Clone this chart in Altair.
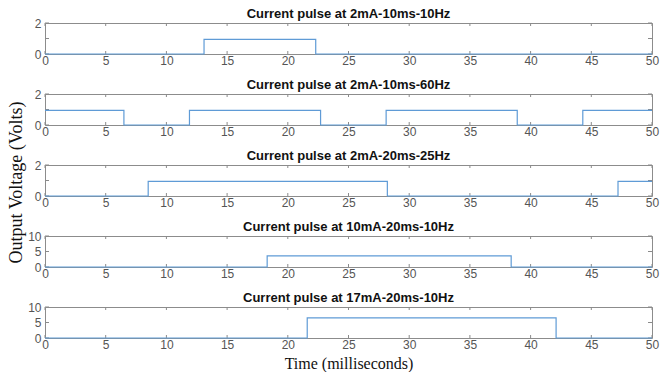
import altair as alt
import pandas as pd

# ---- data ----
titles = [
    "Current pulse at 2mA-10ms-10Hz",
    "Current pulse at 2mA-10ms-60Hz",
    "Current pulse at 2mA-20ms-25Hz",
    "Current pulse at 10mA-20ms-10Hz",
    "Current pulse at 17mA-20ms-10Hz",
]
x_ticks = [0, 5, 10, 15, 20, 25, 30, 35, 40, 45, 50]

p1_t = [0, 13.1, 22.3, 50]
p1_v = [0, 0.95, 0, 0]
p2_t = [0, 6.5, 11.9, 22.7, 28.1, 38.9, 44.3, 50]
p2_v = [0.95, 0, 0.95, 0, 0.95, 0, 0.95, 0.95]
p3_t = [0, 8.5, 28.2, 47.2, 50]
p3_v = [0, 0.95, 0, 0.95, 0.95]
p4_t = [0, 18.3, 38.4, 50]
p4_v = [0, 3.6, 0, 0]
p5_t = [0, 21.6, 42.1, 50]
p5_v = [0, 6.5, 0, 0]

y_max = [2, 2, 2, 10, 10]
y_ticks = [[0, 1, 2], [0, 1, 2], [0, 1, 2], [0, 5, 10], [0, 5, 10]]

series_t = [p1_t, p2_t, p3_t, p4_t, p5_t]
series_v = [p1_v, p2_v, p3_v, p4_v, p5_v]

# ---- styling ----
W, H = 607, 31
LINE = "#5f9bd6"
TICK = "#8a8a8a"
LABEL = "#555555"
SANS = "Liberation Sans"
SERIF = "Liberation Serif"


def panel(i):
    xscale = alt.Scale(domain=[0, 50], nice=False, zero=False)
    yscale = alt.Scale(domain=[0, y_max[i]], nice=False)
    xtitle = "Time (milliseconds)" if i == 4 else None

    xaxis_kw = dict(values=x_ticks, ticks=False, domain=False, grid=False,
                    labelFont=SANS, labelFontSize=12, labelColor=LABEL,
                    labelPadding=1, labelFlush=False, format="d")
    yaxis_kw = dict(values=y_ticks[i], ticks=False, domain=False, grid=False,
                    labelFont=SANS, labelFontSize=12, labelColor=LABEL,
                    labelPadding=4, format="d", title=None)
    if xtitle:
        xaxis_kw.update(title=xtitle, titleFont=SERIF, titleFontSize=16,
                        titleFontWeight="normal", titleColor="#111111",
                        titlePadding=5)
    else:
        xaxis_kw.update(title=None)

    def X(field):
        return alt.X(field, type="quantitative", scale=xscale, axis=alt.Axis(**xaxis_kw))

    def Y(field):
        return alt.Y(field, type="quantitative", scale=yscale, axis=alt.Axis(**yaxis_kw))

    df = pd.DataFrame({"t": series_t[i], "v": series_v[i]})
    xt = pd.DataFrame({"t": x_ticks})
    yt = pd.DataFrame({"v": y_ticks[i]})

    line = alt.Chart(df).mark_line(interpolate="step-after", color=LINE,
                                   strokeWidth=1.2).encode(x=X("t"), y=Y("v"))
    tick_bottom = alt.Chart(xt).mark_rule(color=TICK, strokeWidth=1).encode(
        x=X("t"), y=alt.value(H), y2=alt.value(H - 3))
    tick_top = alt.Chart(xt).mark_rule(color=TICK, strokeWidth=1).encode(
        x=X("t"), y=alt.value(0), y2=alt.value(3))
    tick_left = alt.Chart(yt).mark_rule(color=TICK, strokeWidth=1).encode(
        y=Y("v"), x=alt.value(0), x2=alt.value(4))
    tick_right = alt.Chart(yt).mark_rule(color=TICK, strokeWidth=1).encode(
        y=Y("v"), x=alt.value(W - 4), x2=alt.value(W))

    return alt.layer(tick_bottom, tick_top, tick_left, tick_right, line).properties(
        width=W, height=H,
        title=alt.TitleParams(titles[i], font=SANS, fontSize=13, fontWeight="bold",
                              color="#111111", anchor="middle", offset=-4,
                              frame="group"),
    )


chart = alt.vconcat(*[panel(i) for i in range(5)], spacing=40,
                    bounds="flush").properties(
    title=alt.TitleParams("Output Voltage (Volts)", orient="left", anchor="middle",
                          font=SERIF, fontSize=18, fontWeight="normal",
                          color="#111111", offset=1, dx=7),
    padding={"left": 0, "top": -1, "right": 0, "bottom": 0},
    background="white",
).configure_view(stroke="#8c8c8c", strokeWidth=1)

chart.save("out.html", embed_options={"renderer": "svg", "actions": False})
